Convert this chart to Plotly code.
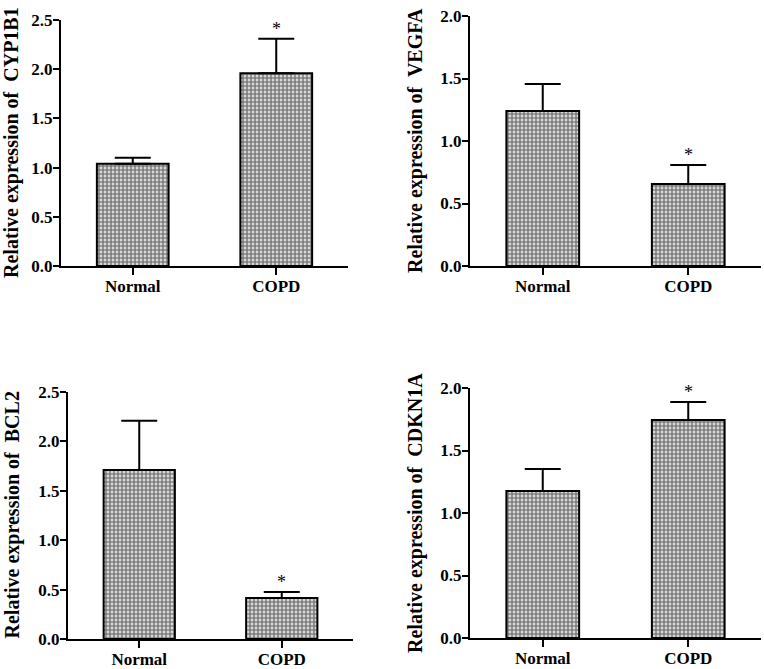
import plotly.graph_objects as go

groups = ["Normal", "COPD"]

cyp1b1_mean = [1.04, 1.96]
cyp1b1_err = [0.06, 0.35]

vegfa_mean = [1.24, 0.656]
vegfa_err = [0.215, 0.152]

bcl2_mean = [1.71, 0.415]
bcl2_err = [0.50, 0.06]

cdkn1a_mean = [1.176, 1.744]
cdkn1a_err = [0.176, 0.144]

significant = [False, True]

panels = [
    ("CYP1B1", cyp1b1_mean, cyp1b1_err, [0, 2.5]),
    ("VEGFA", vegfa_mean, vegfa_err, [0, 2.0]),
    ("BCL2", bcl2_mean, bcl2_err, [0, 2.5]),
    ("CDKN1A", cdkn1a_mean, cdkn1a_err, [0, 2.0]),
]

W, H = 764, 669
# pixel boxes: (x0, x1, ytop, ybottom, title offset)
boxes = [
    (61, 348, 20, 266, -50),
    (470, 761, 16, 266, -55),
    (68, 353, 392, 639, -56),
    (470, 761, 388, 638, -55),
]

FONT = "Liberation Serif"

fig = go.Figure()
layout = {}
annotations = []
for i, ((gene, mean, err, yr), (x0, x1, yt, yb, toff)) in enumerate(zip(panels, boxes)):
    n = "" if i == 0 else str(i + 1)
    xa, ya = "x" + n, "y" + n
    fig.add_trace(go.Bar(
        x=groups, y=mean, xaxis=xa, yaxis=ya, width=0.5,
        marker=dict(color="white", line=dict(color="black", width=2),
                    pattern=dict(shape=".", fgcolor="black", bgcolor="white",
                                 size=4, solidity=0.75)),
        error_y=dict(type="data", array=err, arrayminus=[0] * len(err),
                     symmetric=False, color="black", thickness=2, width=18),
        showlegend=False, hoverinfo="skip",
    ))
    for g, m, e, s in zip(groups, mean, err, significant):
        if s:
            annotations.append(dict(
                x=g, y=m + e, xref=xa, yref=ya, text="*", showarrow=False,
                yanchor="bottom", yshift=-2,
                font=dict(family=FONT, size=18, color="black")))
    annotations.append(dict(
        x=0, y=0.5, xref=xa + " domain", yref=ya + " domain",
        text="Relative expression of  " + gene, textangle=-90,
        showarrow=False, xanchor="center", yanchor="middle", xshift=toff,
        font=dict(family=FONT, size=20, color="black", weight="bold")))
    layout["xaxis" + n] = dict(
        domain=[x0 / W, x1 / W], anchor=ya, range=[-0.5, 1.5], automargin=False,
        showline=True, linecolor="black", linewidth=2,
        ticks="outside", ticklen=7, tickwidth=2, tickcolor="black",
        ticklabelstandoff=-3,
        tickfont=dict(family=FONT, size=17, color="black", weight="bold"),
        showgrid=False, zeroline=False, fixedrange=True,
    )
    layout["yaxis" + n] = dict(
        domain=[(H - yb) / H, (H - yt) / H], anchor=xa, range=yr, automargin=False,
        dtick=0.5, tickformat=".1f",
        showline=True, linecolor="black", linewidth=2,
        ticks="outside", ticklen=6, tickwidth=2, tickcolor="black",
        ticklabelstandoff=-3,
        tickfont=dict(family=FONT, size=17, color="black", weight="bold"),
        showgrid=False, zeroline=False, fixedrange=True,
    )

fig.update_layout(
    width=W, height=H, margin=dict(l=0, r=0, t=0, b=0),
    paper_bgcolor="white", plot_bgcolor="white",
    annotations=annotations, **layout,
)
fig.write_html(
    "out.html",
    config={"displayModeBar": False, "staticPlot": True},
    post_script="document.body.style.margin='0';document.body.style.overflow='hidden';",
)
